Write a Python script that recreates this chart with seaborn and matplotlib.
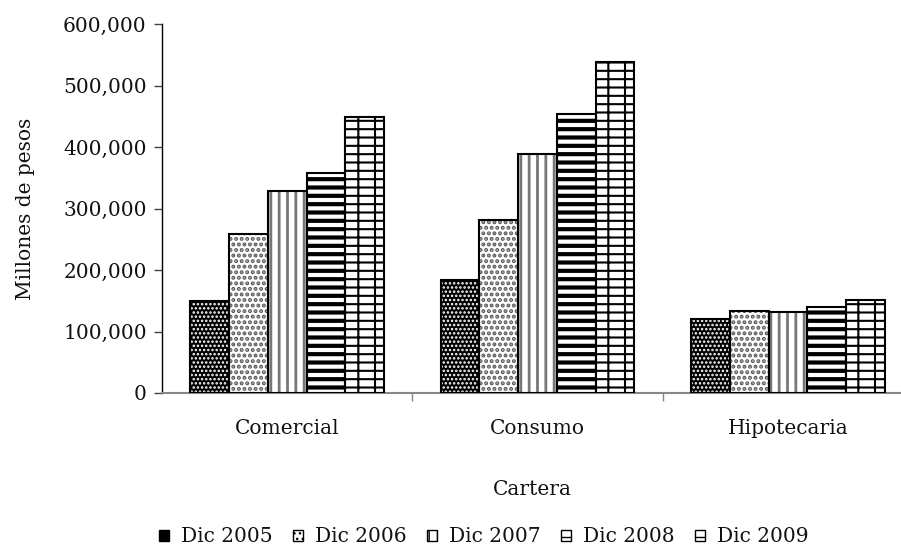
import matplotlib
matplotlib.use("Agg")
import matplotlib.pyplot as plt
import seaborn as sns
import pandas as pd
from matplotlib.patches import Rectangle, Patch
from matplotlib.ticker import FuncFormatter

categories = ["Comercial", "Consumo", "Hipotecaria"]
series = ["Dic 2005", "Dic 2006", "Dic 2007", "Dic 2008", "Dic 2009"]
dic2005 = [150000, 184000, 120000]
dic2006 = [259000, 282000, 134000]
dic2007 = [329000, 388000, 132000]
dic2008 = [358000, 454000, 140000]
dic2009 = [449000, 538000, 152000]
yticks = [0, 100000, 200000, 300000, 400000, 500000, 600000]

values = [dic2005, dic2006, dic2007, dic2008, dic2009]
rows = []
for s, vals in zip(series, values):
    for c, v in zip(categories, vals):
        rows.append({"Cartera": c, "Serie": s, "Valor": v})
df = pd.DataFrame(rows)

sns.set_theme(style="white")
plt.rcParams["font.family"] = ["DejaVu Serif"]
FS = 14.5

# facecolor, hatch, hatch colour
styles = [
    ("#000000", "....", "#ffffff"),
    ("#ffffff", "...", "#5a5a5a"),
    ("#ffffff", "||", "#777777"),
    ("#ffffff", "--", "#000000"),
    ("#ffffff", "-+", "#000000"),
]
hatch_lw = [1.2, 2.0, 2.0, 3.0, 1.5]

fig = plt.figure(figsize=(9.01, 5.45), dpi=100)
ax = fig.add_axes([162 / 901, (545 - 393) / 545, 740 / 901, 369 / 545])

sns.barplot(data=df, x="Cartera", y="Valor", hue="Serie", order=categories,
            hue_order=series, width=0.773, ax=ax, legend=False,
            palette=["white"] * 5, edgecolor="black", linewidth=0, saturation=1)

for i, cont in enumerate(ax.containers):
    fc, h, hc = styles[i]
    for bar in cont:
        bar.set_facecolor(fc)
        bar.set_edgecolor(hc)
        bar.set_hatch(h)
        bar.set_linewidth(0)
        if hasattr(bar, "set_hatch_linewidth"):
            bar.set_hatch_linewidth(hatch_lw[i])
        x, y = bar.get_xy()
        ax.add_patch(Rectangle((x, y), bar.get_width(), bar.get_height(),
                               fill=False, edgecolor="black", linewidth=1.5, zorder=5))

ax.set_ylim(0, 600000)
ax.set_xlim(-0.5, 2.5 - 11 / 249.6)
ax.set_yticks(yticks)
ax.yaxis.set_major_formatter(FuncFormatter(lambda v, p: f"{int(v):,}"))
ax.tick_params(axis="y", which="major", left=True, length=6, width=1, color="#444444",
               labelsize=FS, pad=5, labelcolor="#111111")
ax.tick_params(axis="x", which="major", bottom=False, labelsize=FS, pad=13,
               labelcolor="#111111")
ax.set_xticks([0.5, 1.5], minor=True)
ax.tick_params(axis="x", which="minor", bottom=True, length=6, width=1, color="#888888")

for side in ["top", "right"]:
    ax.spines[side].set_visible(False)
ax.spines["left"].set_color("black")
ax.spines["left"].set_linewidth(1)
ax.spines["bottom"].set_color("#888888")
ax.spines["bottom"].set_linewidth(1.5)

ax.set_ylabel("Millones de pesos", fontsize=FS, labelpad=20, color="#111111")
ax.set_xlabel("Cartera", fontsize=FS, labelpad=30, color="#111111")

handles = []
for i, s in enumerate(series):
    fc, h, hc = styles[i]
    try:
        p = Patch(facecolor=fc, edgecolor="black", hatch=h, label=s, linewidth=1,
                  hatchcolor=hc)
    except Exception:
        p = Patch(facecolor=fc, edgecolor="black", hatch=h, label=s, linewidth=1)
    handles.append(p)
fig.legend(handles=handles, loc="center", bbox_to_anchor=(484 / 901, 1 - 537 / 545),
           ncol=5, frameon=False, fontsize=FS, handlelength=0.5, handleheight=0.5,
           handletextpad=0.6, columnspacing=1.0, labelcolor="#111111")

fig.savefig("out.png", dpi=100)
